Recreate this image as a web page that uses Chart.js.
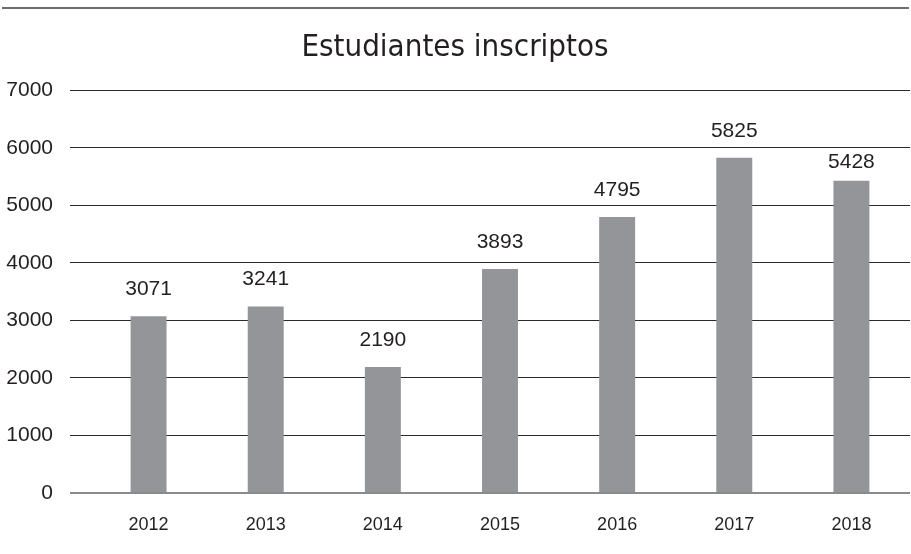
<!DOCTYPE html>
<html>
<head>
<meta charset="utf-8">
<title>Estudiantes inscriptos</title>
<script src="https://cdn.jsdelivr.net/npm/chart.js"></script>
<style>
  html, body { margin: 0; padding: 0; background: #fff; }
  #wrap { width: 911px; height: 554px; }
</style>
</head>
<body>
<div id="wrap"><canvas id="chart" width="911" height="554"></canvas></div>
<script>
// Data
const years = ["2012", "2013", "2014", "2015", "2016", "2017", "2018"];
const students = [3071, 3241, 2190, 3893, 4795, 5825, 5428];
const yTicks = [0, 1000, 2000, 3000, 4000, 5000, 6000, 7000];

const textColor = "#231f20";
const barColor = "#939598";

// thin rule above the title
const topRule = {
  id: "topRule",
  beforeDraw(chart) {
    const ctx = chart.ctx;
    ctx.save();
    ctx.strokeStyle = "#6d6e71";
    ctx.lineWidth = 2;
    ctx.beginPath();
    ctx.moveTo(2, 8);
    ctx.lineTo(chart.width - 2, 8);
    ctx.stroke();
    ctx.restore();
  }
};

// value above every bar, nudged below a gridline when it would sit on it
const valueLabels = {
  id: "valueLabels",
  afterDatasetsDraw(chart) {
    const ctx = chart.ctx;
    const yScale = chart.scales.y;
    const gridYs = yTicks.map(v => yScale.getPixelForValue(v));
    const meta = chart.getDatasetMeta(0);
    ctx.save();
    ctx.font = "21px 'Liberation Sans', Arial, sans-serif";
    ctx.fillStyle = textColor;
    ctx.textAlign = "center";
    ctx.textBaseline = "middle";
    meta.data.forEach((bar, i) => {
      let y = bar.y - 27;
      const hit = gridYs.find(g => Math.abs(g - y) < 10);
      if (hit !== undefined) y = hit + 14;
      ctx.fillText(String(students[i]), bar.x, y);
    });
    ctx.restore();
  }
};

new Chart(document.getElementById("chart").getContext("2d"), {
  type: "bar",
  data: {
    labels: years,
    datasets: [{
      label: "Estudiantes inscriptos",
      data: students,
      backgroundColor: barColor,
      borderWidth: 0,
      categoryPercentage: 1,
      barPercentage: 0.307
    }]
  },
  options: {
    responsive: false,
    animation: false,
    layout: { padding: { left: 0, right: 1, top: 0, bottom: 0 } },
    plugins: {
      legend: { display: false },
      tooltip: { enabled: false },
      title: {
        display: true,
        text: "Estudiantes inscriptos",
        color: textColor,
        font: { family: "'DejaVu Sans Condensed', sans-serif", size: 31, weight: "normal" },
        padding: { top: 29, bottom: 24 }
      }
    },
    scales: {
      x: {
        grid: { display: false },
        border: { display: false },
        ticks: {
          color: textColor,
          font: { family: "'Liberation Sans', Arial, sans-serif", size: 18 },
          padding: 13
        },
        afterFit(scale) { scale.height = 61; }
      },
      y: {
        min: 0,
        max: 7000,
        afterBuildTicks(scale) { scale.ticks = yTicks.map(v => ({ value: v })); },
        border: { display: false },
        grid: {
          drawTicks: true,
          tickLength: 20,
          color: ctx => ctx.tick && ctx.tick.value === 0 ? "#8a8b8d" : "#2a2a2a",
          lineWidth: ctx => ctx.tick && ctx.tick.value === 0 ? 2 : 1
        },
        ticks: {
          color: textColor,
          font: { family: "'Liberation Sans', Arial, sans-serif", size: 21 },
          padding: 17,
          callback: v => String(v)
        },
        afterFit(scale) { scale.width = 90; }
      }
    }
  },
  plugins: [topRule, valueLabels]
});
</script>
</body>
</html>
